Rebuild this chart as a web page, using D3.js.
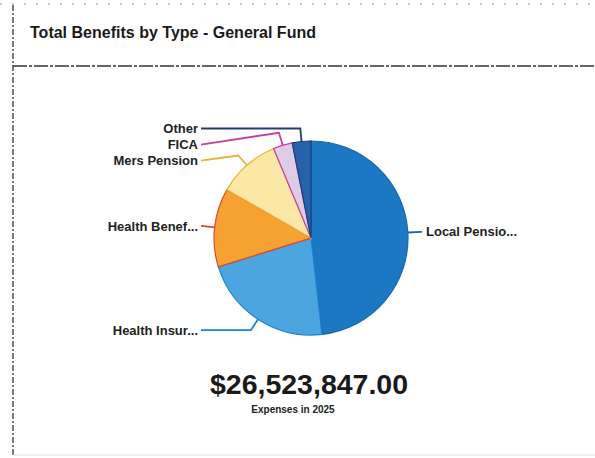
<!DOCTYPE html>
<html>
<head>
<meta charset="utf-8">
<script src="https://cdn.jsdelivr.net/npm/d3@7"></script>
<style>
  html, body { margin: 0; padding: 0; background: #fff; }
  svg { display: block; font-family: "Liberation Sans", Arial, sans-serif; }
</style>
</head>
<body>
<svg id="chart" width="595" height="458"></svg>
<script>
// Benefit categories (General Fund) and their expense amounts, 2025
const categories = ["Local Pensio...", "Health Insur...", "Health Benef...", "Mers Pension", "FICA", "Other"];
const amounts = [12784000, 5835000, 3475000, 2758000, 849000, 822847];
const fillColors = ["#1c78c2", "#4ca5df", "#f5a233", "#fbe8a6", "#ddcbe7", "#2562ab"];
const lineColors = ["#1866b0", "#1a82d2", "#e5432a", "#eab233", "#c8409f", "#1f3c78"];
const title = "Total Benefits by Type - General Fund";
const totalLabel = "$26,523,847.00";
const subLabel = "Expenses in 2025";

const svg = d3.select("#chart");

// Card frame: left border, header rule
svg.append("line").attr("x1", 13).attr("y1", 5).attr("x2", 13).attr("y2", 455)
  .attr("stroke", "#333").attr("stroke-width", 1.3).attr("stroke-dasharray", "6,2,2,2");
svg.append("line").attr("x1", 0).attr("y1", 4).attr("x2", 595).attr("y2", 4)
  .attr("stroke", "#999").attr("stroke-width", 1).attr("stroke-dasharray", "2,10");
svg.append("line").attr("x1", 13).attr("y1", 66).attr("x2", 595).attr("y2", 66)
  .attr("stroke", "#333").attr("stroke-width", 1.3).attr("stroke-dasharray", "14,2,3,2");
svg.append("line").attr("x1", 13).attr("y1", 455).attr("x2", 595).attr("y2", 455)
  .attr("stroke", "#d6e2ec").attr("stroke-width", 1);

svg.append("text").attr("x", 30).attr("y", 38)
  .attr("font-size", 16).attr("font-weight", "bold").attr("fill", "#1a1a1a")
  .attr("textLength", 286).attr("lengthAdjust", "spacingAndGlyphs")
  .text(title);

// Pie
const cx = 311, cy = 238, r = 97;
const data = categories.map((c, i) => ({ name: c, value: amounts[i], fill: fillColors[i], line: lineColors[i] }));
const pie = d3.pie().value(d => d.value).sort(null).startAngle(0).endAngle(2 * Math.PI);
const arcs = pie(data);
const arc = d3.arc().innerRadius(0).outerRadius(r);

const g = svg.append("g").attr("transform", `translate(${cx},${cy})`);
g.selectAll("path.slice").data(arcs).join("path")
  .attr("class", "slice")
  .attr("d", arc)
  .attr("fill", d => d.data.fill)
  .attr("stroke", d => d.data.line)
  .attr("stroke-width", 1.2);

// Data labels with elbow leader lines
const polar = (a, rad) => [Math.sin(a) * rad, -Math.cos(a) * rad];
const labelGap = 16;
const items = arcs.map(d => {
  const mid = (d.startAngle + d.endAngle) / 2;
  const p0 = polar(mid, r);
  const p1 = polar(mid, r + 13);
  const right = p0[0] > 0;
  return { d, p0, p1, right, y: p1[1] };
});
// keep left-side labels from overlapping, working down from the top
const left = items.filter(o => !o.right).sort((a, b) => a.y - b.y);
for (let i = 1; i < left.length; i++) {
  left[i].y = Math.max(left[i].y, left[i - 1].y + labelGap);
}
const leftX = 201 - cx, rightX = 422 - cx;

items.forEach(o => {
  const endX = o.right ? rightX : leftX;
  const pts = [o.p0, o.p1, [endX, o.y]];
  g.append("path")
    .attr("d", d3.line()(pts))
    .attr("fill", "none")
    .attr("stroke", o.d.data.line)
    .attr("stroke-width", 1.8);
  g.append("text")
    .attr("x", o.right ? endX + 4 : endX - 3)
    .attr("y", o.y)
    .attr("dy", "0.35em")
    .attr("text-anchor", o.right ? "start" : "end")
    .attr("font-size", 13)
    .attr("font-weight", "bold")
    .attr("fill", "#222")
    .text(o.d.data.name);
});

// Total amount
svg.append("text").attr("x", 309).attr("y", 394)
  .attr("text-anchor", "middle")
  .attr("font-size", 28.5).attr("font-weight", "bold").attr("fill", "#1a1a1a")
  .text(totalLabel);
svg.append("text").attr("x", 293).attr("y", 413)
  .attr("text-anchor", "middle")
  .attr("font-size", 10).attr("font-weight", "bold").attr("fill", "#222")
  .text(subLabel);
</script>
</body>
</html>
